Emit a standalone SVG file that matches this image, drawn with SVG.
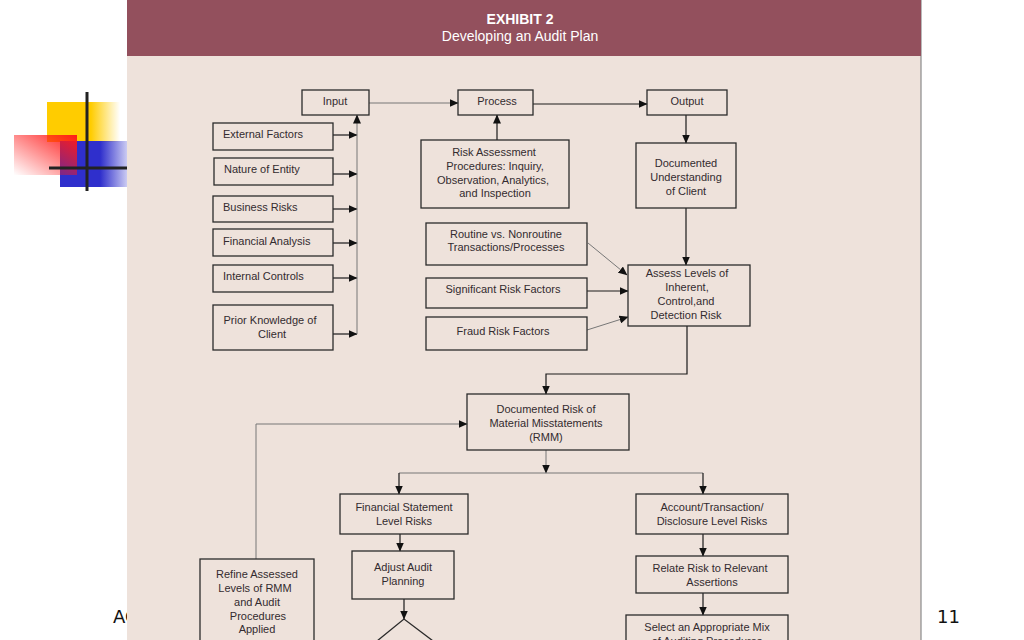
<svg xmlns="http://www.w3.org/2000/svg" width="1024" height="640" viewBox="0 0 1024 640">
<defs>
<linearGradient id="gY" x1="0" y1="0" x2="1" y2="0"><stop offset="0" stop-color="#ffcc00"/><stop offset="0.6" stop-color="#ffcc00"/><stop offset="1" stop-color="#ffcc00" stop-opacity="0"/></linearGradient>
<linearGradient id="gR" x1="1" y1="0" x2="0" y2="1"><stop offset="0" stop-color="#ff1a1a"/><stop offset="1" stop-color="#ff1a1a" stop-opacity="0"/></linearGradient>
<linearGradient id="gB" x1="0" y1="0" x2="1" y2="0"><stop offset="0" stop-color="#2f2fcc"/><stop offset="0.6" stop-color="#2f2fcc"/><stop offset="1" stop-color="#2f2fcc" stop-opacity="0.25"/></linearGradient>
<marker id="ah" markerUnits="userSpaceOnUse" markerWidth="9" markerHeight="8" refX="8.5" refY="4" orient="auto"><path d="M0,0 L9,4 L0,8 z" fill="#111"/></marker>
</defs>
<style>
.box{fill:none;stroke:#2b2b2b;stroke-width:1.3}
.t{font-family:"Liberation Sans",Arial,sans-serif;font-size:11px;fill:#332b2f;text-anchor:middle}
.tl{text-anchor:start}
.c{fill:none;stroke:#1a1a1a;stroke-width:1.2}
.g{fill:none;stroke:#777;stroke-width:1}
.ar{marker-end:url(#ah)}
.hd{font-family:"Liberation Sans",Arial,sans-serif;fill:#fff;text-anchor:middle;font-size:14px}
.sl{font-family:"DejaVu Sans",sans-serif;font-size:18px;fill:#111}
</style>
<rect width="1024" height="640" fill="#fff"/>
<g id="logo">
<rect x="47" y="102" width="73" height="40" fill="url(#gY)"/>
<rect x="60" y="141" width="67" height="46" fill="url(#gB)"/>
<rect x="14" y="135" width="63" height="40" fill="url(#gR)"/>
<line x1="87" y1="92" x2="87" y2="191" stroke="#222" stroke-width="3"/>
<line x1="49" y1="168" x2="127" y2="168" stroke="#222" stroke-width="3"/>
</g>
<text class="sl" x="113" y="623">AC</text>
<text class="sl" x="937" y="623">11</text>
<g id="panel">
<rect x="127" y="0" width="794" height="640" fill="#eee2db"/>
<line x1="921" y1="0" x2="921" y2="640" stroke="#8a8a8a" stroke-width="1.2"/>
<rect x="127" y="0" width="794" height="56" fill="#93505d"/>
<text class="hd" x="520" y="24" font-weight="bold">EXHIBIT 2</text>
<text class="hd" x="520" y="41">Developing an Audit Plan</text>
</g>
<g id="connectors">
<line class="g ar" x1="369" y1="103" x2="458" y2="103"/>
<line class="c ar" x1="533" y1="104" x2="647" y2="104"/>
<line class="c ar" x1="497" y1="140" x2="497" y2="115"/>
<line class="c ar" x1="686" y1="115" x2="686" y2="143"/>
<line class="c ar" x1="333" y1="135" x2="357" y2="135"/>
<line class="c ar" x1="333" y1="174" x2="357" y2="174"/>
<line class="c ar" x1="333" y1="209" x2="357" y2="209"/>
<line class="c ar" x1="333" y1="243" x2="357" y2="243"/>
<line class="c ar" x1="333" y1="278" x2="357" y2="278"/>
<line class="c ar" x1="333" y1="334" x2="357" y2="334"/>
<line class="g ar" x1="357" y1="334" x2="357" y2="115"/>
<line class="c ar" x1="686" y1="208" x2="686" y2="265"/>
<line class="g ar" x1="588" y1="243" x2="627" y2="275"/>
<line class="c ar" x1="587" y1="291" x2="628" y2="291"/>
<line class="g ar" x1="587" y1="330" x2="628" y2="317"/>
<path class="c ar" d="M687,326 V374 H546 V394"/>
<path class="g ar" d="M256,559 V424 H467"/>
<line class="g ar" x1="546" y1="450" x2="546" y2="473"/>
<line class="g" x1="399" y1="473" x2="703" y2="473"/>
<line class="c ar" x1="399" y1="473" x2="399" y2="494"/>
<line class="c ar" x1="703" y1="473" x2="703" y2="494"/>
<line class="c ar" x1="400" y1="534" x2="400" y2="551"/>
<line class="c ar" x1="404" y1="599" x2="404" y2="619"/>
<line class="c ar" x1="703" y1="534" x2="703" y2="556"/>
<line class="c ar" x1="703" y1="593" x2="703" y2="615"/>
</g>
<g id="input"><rect class="box" x="302" y="90" width="67" height="25"/><text class="t" x="335" y="105">Input</text></g>
<g id="process"><rect class="box" x="458" y="90" width="75" height="25"/><text class="t" x="497" y="105">Process</text></g>
<g id="output"><rect class="box" x="647" y="90" width="80" height="25"/><text class="t" x="687" y="105">Output</text></g>
<g id="external"><rect class="box" x="213" y="123" width="120" height="27"/><text class="t tl" x="223" y="138">External Factors</text></g>
<g id="nature"><rect class="box" x="214" y="158" width="119" height="27"/><text class="t tl" x="224" y="173">Nature of Entity</text></g>
<g id="business"><rect class="box" x="213" y="196" width="120" height="26"/><text class="t tl" x="223" y="211">Business Risks</text></g>
<g id="financial"><rect class="box" x="213" y="229" width="120" height="27"/><text class="t tl" x="223" y="245">Financial Analysis</text></g>
<g id="internal"><rect class="box" x="213" y="265" width="120" height="27"/><text class="t tl" x="223" y="280">Internal Controls</text></g>
<g id="prior"><rect class="box" x="213" y="305" width="120" height="45"/><text class="t" x="270" y="324">Prior Knowledge of</text><text class="t" x="272" y="338">Client</text></g>
<g id="riskassess"><rect class="box" x="421" y="140" width="148" height="68"/><text class="t" x="494" y="156">Risk Assessment</text><text class="t" x="495" y="170">Procedures: Inquiry,</text><text class="t" x="493" y="184">Observation, Analytics,</text><text class="t" x="495" y="197">and Inspection</text></g>
<g id="docund"><rect class="box" x="636" y="143" width="100" height="65"/><text class="t" x="686" y="167">Documented</text><text class="t" x="686" y="181">Understanding</text><text class="t" x="686" y="195">of Client</text></g>
<g id="routine"><rect class="box" x="426" y="223" width="161" height="42"/><text class="t" x="506" y="238">Routine vs. Nonroutine</text><text class="t" x="506" y="251">Transactions/Processes</text></g>
<g id="significant"><rect class="box" x="426" y="278" width="161" height="30"/><text class="t" x="503" y="293">Significant Risk Factors</text></g>
<g id="fraud"><rect class="box" x="426" y="317" width="161" height="33"/><text class="t" x="503" y="335">Fraud Risk Factors</text></g>
<g id="assess"><rect class="box" x="628" y="265" width="122" height="61"/><text class="t" x="687" y="277">Assess Levels of</text><text class="t" x="687" y="291">Inherent,</text><text class="t" x="686" y="305">Control,and</text><text class="t" x="686" y="319">Detection Risk</text></g>
<g id="rmm"><rect class="box" x="467" y="394" width="162" height="56"/><text class="t" x="546" y="413">Documented Risk of</text><text class="t" x="546" y="427">Material Misstatements</text><text class="t" x="546" y="441">(RMM)</text></g>
<g id="fslevel"><rect class="box" x="340" y="494" width="128" height="40"/><text class="t" x="404" y="511">Financial Statement</text><text class="t" x="404" y="525">Level Risks</text></g>
<g id="adjust"><rect class="box" x="352" y="551" width="102" height="48"/><text class="t" x="403" y="571">Adjust Audit</text><text class="t" x="403" y="585">Planning</text></g>
<g id="decision"><path class="box" d="M366,650 L404,619 L445,650"/></g>
<g id="refine"><rect class="box" x="200" y="559" width="114" height="100"/><text class="t" x="257" y="578">Refine Assessed</text><text class="t" x="255" y="592">Levels of RMM</text><text class="t" x="257" y="606">and Audit</text><text class="t" x="258" y="620">Procedures</text><text class="t" x="257" y="633">Applied</text></g>
<g id="account"><rect class="box" x="636" y="494" width="152" height="40"/><text class="t" x="712" y="511">Account/Transaction/</text><text class="t" x="712" y="525">Disclosure Level Risks</text></g>
<g id="relate"><rect class="box" x="636" y="556" width="152" height="37"/><text class="t" x="710" y="572">Relate Risk to Relevant</text><text class="t" x="712" y="586">Assertions</text></g>
<g id="select"><rect class="box" x="626" y="615" width="162" height="40"/><text class="t" x="707" y="631">Select an Appropriate Mix</text><text class="t" x="707" y="645">of Auditing Procedures</text></g>
</svg>
